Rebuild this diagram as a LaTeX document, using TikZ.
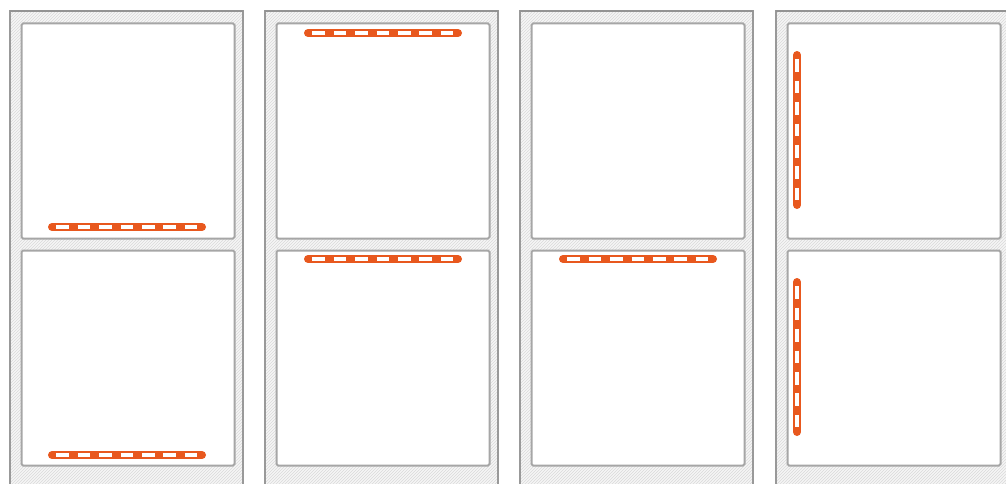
\documentclass[tikz,border=0pt]{standalone}
\usepackage{tikz}
\usetikzlibrary{patterns}
\definecolor{barorange}{HTML}{E8581E}

\begin{document}
\begin{tikzpicture}[x=1pt, y=-1pt,
    frameline/.style={draw=gray!80, line width=1.8pt},
    pane/.style={draw=gray!70, line width=2pt, fill=white, rounded corners=1.5pt,
                 minimum width=213pt, minimum height=215pt, inner sep=0pt, anchor=north west},
    barline/.style={draw=barorange, line width=8pt, line cap=round},
    bardash/.style={draw=white, line width=4.2pt, dash pattern=on 12.6 off 8.8, dash phase=17}]

    \useasboundingbox (0,0) rectangle (1006,484);

    % Outer frames with hatched gap
    \foreach \x [count=\i] in {10, 265, 520, 776} {
        \fill[gray!7] (\x,11) rectangle ++(233,473);
        \fill[pattern=north east lines, pattern color=gray!30] (\x,11) rectangle ++(233,473);
        \draw[frameline] (\x,484) -- (\x,11) -- ++(233,0) -- ++(0,473);
        \draw[gray!85, line width=2.6pt] (\x,11) -- ++(233,0);

        % Two panes in each frame
        \node[pane] (top\i) at (\x+10.5,22.5) {};
        \node[pane] (bot\i) at (\x+10.5,249.5) {};
    }

    % Dashed orange bars (horizontal ones)
    \foreach \a/\b in {{52,227}/{202,227}, {52,455}/{202,455},
                       {308,33}/{458,33}, {308,259}/{458,259},
                       {563,259}/{713,259}} {
        \draw[barline] (\a) -- (\b);
        \draw[bardash] (\a) -- (\b);
    }

    % Vertical bars in the last frame
    \foreach \a/\b in {{797,55}/{797,205}, {797,282}/{797,432}} {
        \draw[barline] (\a) -- (\b);
        \draw[bardash] (\a) -- (\b);
    }
\end{tikzpicture}
\end{document}
